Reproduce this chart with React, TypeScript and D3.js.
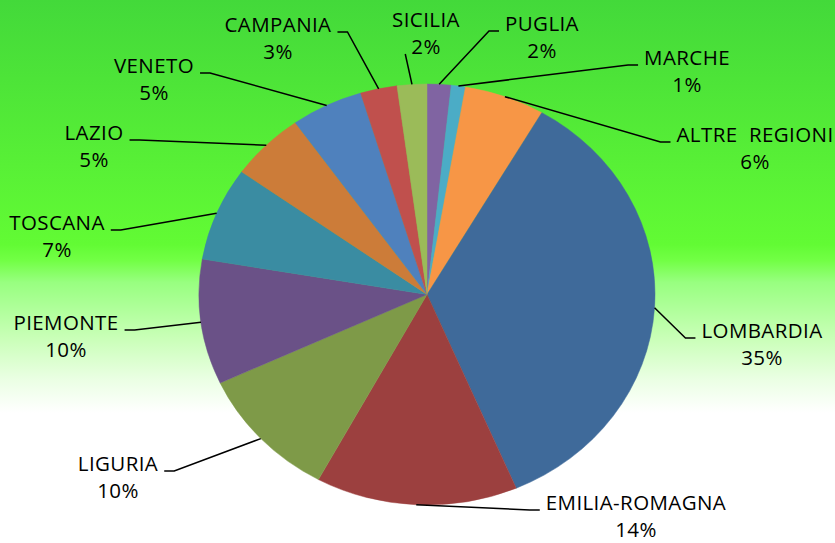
import { useEffect, useRef } from "react";
import * as d3 from "d3";

// regions, clockwise from 12 o'clock
const regions = [
  "PUGLIA", "MARCHE", "ALTRE  REGIONI", "LOMBARDIA", "EMILIA-ROMAGNA", "LIGURIA",
  "PIEMONTE", "TOSCANA", "LAZIO", "VENETO", "CAMPANIA", "SICILIA",
];
const shares = [1.7, 1.0, 5.7, 35.2, 14.3, 10.2, 9.6, 7.2, 5.3, 5.1, 2.6, 2.1];
const sliceColors = [
  "#8064A2", "#4BACC6", "#F79646", "#3F6A9A", "#9C403F", "#7E9A48",
  "#6A5187", "#3A8CA2", "#CC7C39", "#4F81BD", "#C0504D", "#9BBB59",
];

// label layout: centre x, first baseline, which side the leader leaves from, which line
const labelLayout: [number, number, string, number][] = [
  [542, 31, "l", 0],
  [687, 65, "l", 0],
  [755, 142, "l", 0],
  [762, 338, "l", 0],
  [636, 510, "l", 0],
  [118, 471, "r", 0],
  [66, 330, "r", 0],
  [57, 230, "r", 0],
  [94, 140, "r", 0],
  [154, 73, "r", 0],
  [278, 32, "r", 0],
  [426, 27, "l", 1],
];

const W = 835;
const H = 543;

export default function App() {
  const ref = useRef<SVGSVGElement>(null);

  useEffect(() => {
    document.body.style.margin = "0";
    const svg = d3.select(ref.current);
    svg.selectAll("*").remove();

    // background gradient
    const grad = svg.append("defs").append("linearGradient")
      .attr("id", "bg").attr("x1", 0).attr("y1", 0).attr("x2", 0).attr("y2", 1);
    [
      [0, "#43D93A"], [0.45, "#62FB34"], [0.48, "#72FF45"], [0.52, "#98FF80"],
      [0.62, "#C8FFB6"], [0.7, "#EBFFE4"], [0.76, "#FFFFFF"], [1, "#FFFFFF"],
    ].forEach(([o, c]) => grad.append("stop").attr("offset", o as number).attr("stop-color", c as string));
    svg.append("rect").attr("width", W).attr("height", H).attr("fill", "url(#bg)");

    const cx = 427, cy = 294.5, rx = 228, ry = 210.5;
    const total = d3.sum(shares);

    const pie = d3.pie<number>().sort(null).value(d => d);
    const arcs = pie(shares);
    const arc = d3.arc<d3.PieArcDatum<number>>().innerRadius(0).outerRadius(rx);

    svg.append("g")
      .attr("transform", `translate(${cx},${cy}) scale(1,${ry / rx})`)
      .selectAll("path")
      .data(arcs)
      .join("path")
      .attr("d", arc)
      .attr("fill", (_, i) => sliceColors[i])
      .attr("stroke", (_, i) => sliceColors[i])
      .attr("stroke-width", 0.5);

    const labels = svg.append("g")
      .attr("font-family", "'Open Sans', sans-serif")
      .attr("font-size", 20.5)
      .attr("letter-spacing", 0.4)
      .attr("fill", "#000");

    arcs.forEach((a, i) => {
      const [lx, ly, side, line] = labelLayout[i];
      const t = labels.append("text")
        .attr("text-anchor", "middle")
        .style("white-space", "pre");
      t.append("tspan").attr("x", lx).attr("y", ly).text(regions[i]);
      t.append("tspan").attr("x", lx).attr("y", ly + 27)
        .text(`${Math.round((shares[i] / total) * 100)}%`);

      const span = t.selectAll<SVGTSpanElement, unknown>("tspan").nodes()[line];
      const w = span.getComputedTextLength();
      const by = ly + line * 27;
      const mid = (a.startAngle + a.endAngle) / 2;
      const px = cx + rx * Math.sin(mid);
      const py = cy - ry * Math.cos(mid);
      const sx = side === "l" ? lx - w / 2 - 6 : lx + w / 2 + 6;
      const elbow = line === 1 ? 0 : 10;
      const ex = side === "l" ? sx - elbow : sx + elbow;

      svg.append("polyline")
        .attr("points", [[sx, by], [ex, by], [px, py]].map(p => p.join(",")).join(" "))
        .attr("fill", "none")
        .attr("stroke", "#000")
        .attr("stroke-width", 1.5);
    });
  }, []);

  return <svg ref={ref} width={W} height={H} style={{ display: "block" }} />;
}
